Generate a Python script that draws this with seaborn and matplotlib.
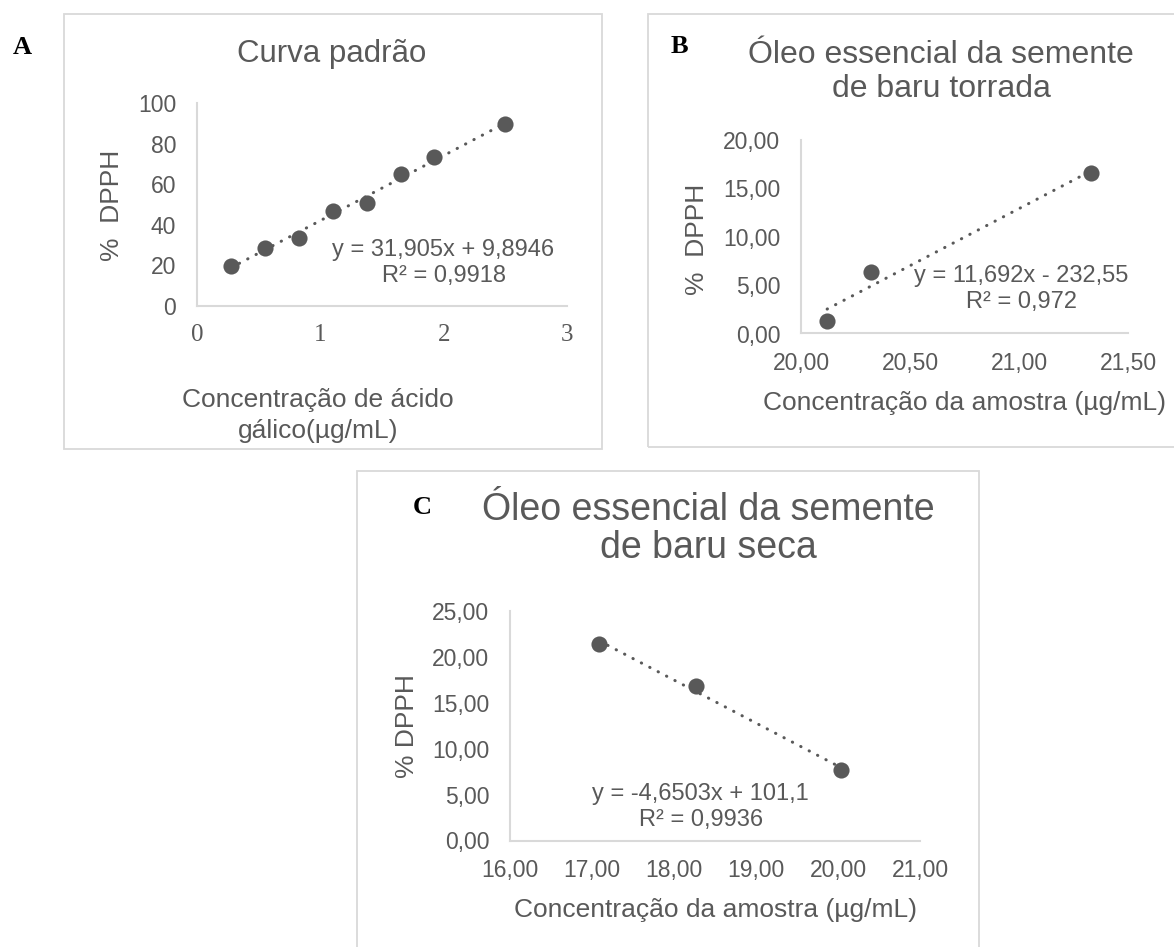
import matplotlib
matplotlib.use("Agg")
import matplotlib.pyplot as plt
from matplotlib.patches import Rectangle
from matplotlib.ticker import FuncFormatter, MultipleLocator
import seaborn as sns

# painel A - curva padrao (acido galico)
conc_a = [0.275, 0.55, 0.825, 1.1, 1.375, 1.65, 1.925, 2.5]
dpph_a = [19.9, 28.4, 33.6, 46.9, 50.6, 64.9, 73.2, 89.5]

# painel B - semente torrada
conc_b = [20.12, 20.32, 21.33]
dpph_b = [1.32, 6.33, 16.56]

# painel C - semente seca
conc_c = [17.09, 18.27, 20.04]
dpph_c = [21.37, 16.83, 7.68]

eq_a = ["y = 31,905x + 9,8946", "R² = 0,9918"]
eq_b = ["y = 11,692x - 232,55", "R² = 0,972"]
eq_c = ["y = -4,6503x + 101,1", "R² = 0,9936"]

W, H = 1174, 947
GREY = "#595959"
LIGHT = "#d9d9d9"

sns.set_theme(style="white")
plt.rcParams["font.family"] = ["Liberation Sans", "DejaVu Sans"]

fig = plt.figure(figsize=(W / 100, H / 100), dpi=100)
fig.patch.set_facecolor("white")


def fx(px):
    return px / W


def fy(py):
    return 1 - py / H


def axes_px(left, top, right, bottom):
    return fig.add_axes([fx(left), fy(bottom), (right - left) / W, (bottom - top) / H])


def txt(x, y, s, size, **kw):
    kw.setdefault("ha", "center")
    kw.setdefault("va", "baseline")
    kw.setdefault("color", GREY)
    fig.text(fx(x), fy(y), s, fontsize=size, **kw)


def box(left, top, right, bottom):
    fig.add_artist(Rectangle((fx(left), fy(bottom)), (right - left) / W, (bottom - top) / H,
                             transform=fig.transFigure, fill=False, ec=LIGHT, lw=1.3))


def comma(dec):
    return FuncFormatter(lambda v, p: f"{v:.{dec}f}".replace(".", ","))


def panel(ax, x, y, xlim, ylim, xstep, ystep, dec):
    sns.regplot(x=x, y=y, ax=ax, scatter=False, ci=None,
                line_kws=dict(color=GREY, lw=2.2, linestyle=(0, (0.1, 3.0)),
                              dash_capstyle="round"))
    sns.scatterplot(x=x, y=y, ax=ax, s=135, color=GREY, linewidth=0, zorder=3)
    ax.set_xlim(*xlim)
    ax.set_ylim(*ylim)
    ax.xaxis.set_major_locator(MultipleLocator(xstep))
    ax.yaxis.set_major_locator(MultipleLocator(ystep))
    ax.xaxis.set_major_formatter(comma(dec))
    ax.yaxis.set_major_formatter(comma(dec))
    ax.set_xlabel("")
    ax.set_ylabel("")
    ax.set_facecolor("none")
    for s in ["top", "right"]:
        ax.spines[s].set_visible(False)
    for s in ["left", "bottom"]:
        ax.spines[s].set_color(LIGHT)
        ax.spines[s].set_linewidth(1.5)
    ax.tick_params(axis="both", length=0, colors=GREY, labelsize=16.5)
    ax.tick_params(axis="x", pad=13)
    ax.tick_params(axis="y", pad=15)
    ax.grid(False)


# caixas dos graficos
box(64, 14, 602, 449)
box(648, 14, 1190, 447)
box(357, 471, 979, 960)

# A
axA = axes_px(197, 103, 567, 306)
panel(axA, conc_a, dpph_a, (0, 3), (0, 100), 1, 20, 0)
for lab in axA.get_xticklabels():
    lab.set_fontfamily("Liberation Serif")
    lab.set_fontsize(18)
txt(22, 54, "A", 19, color="black", fontweight="bold", family="Liberation Serif")
txt(332, 62, "Curva padrão", 22.5)
txt(112, 205, "%  DPPH", 19, rotation=90, va="center")
txt(318, 407, "Concentração de ácido", 19)
txt(318, 438, "gálico(µg/mL)", 19)
txt(443, 256, eq_a[0], 17)
txt(444, 282, eq_a[1], 17)

# B
axB = axes_px(801, 140, 1128, 333.5)
panel(axB, conc_b, dpph_b, (20, 21.5), (0, 20), 0.5, 5, 2)
txt(679, 53, "B", 19, color="black", fontweight="bold", family="Liberation Serif")
txt(941, 63, "Óleo essencial da semente", 23)
txt(941, 97, "de baru torrada", 23)
txt(697, 239, "%  DPPH", 19, rotation=90, va="center")
txt(964.5, 410, "Concentração da amostra (µg/mL)", 19)
txt(1021, 282, eq_b[0], 17)
txt(1022, 308, eq_b[1], 17)

# C
axC = axes_px(510, 611, 920, 840.5)
panel(axC, conc_c, dpph_c, (16, 21), (0, 25), 1, 5, 2)
txt(422, 514, "C", 19, color="black", fontweight="bold", family="Liberation Serif")
txt(708, 520, "Óleo essencial da semente", 27)
txt(708, 558, "de baru seca", 27)
txt(407, 726, "% DPPH", 19, rotation=90, va="center")
txt(715, 917, "Concentração da amostra (µg/mL)", 19)
txt(700, 800, eq_c[0], 17)
txt(701, 826, eq_c[1], 17)

fig.savefig("out.png", dpi=100)
